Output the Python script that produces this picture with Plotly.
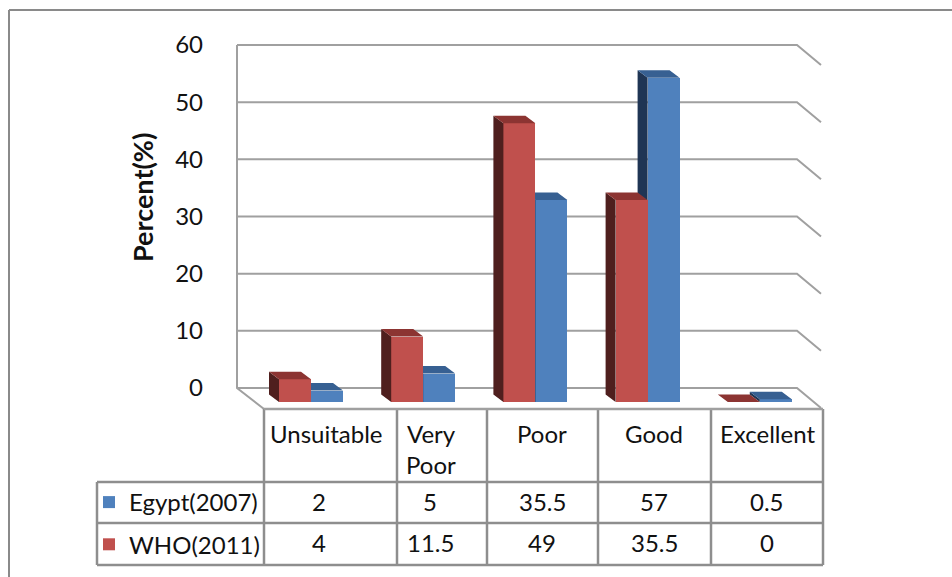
import plotly.graph_objects as go

# ---- data ----
categories = ["Unsuitable", "Very<br>Poor", "Poor", "Good", "Excellent"]
egypt_2007 = [2, 5, 35.5, 57, 0.5]
who_2011 = [4, 11.5, 49, 35.5, 0]
egypt_labels = ["2", "5", "35.5", "57", "0.5"]
who_labels = ["4", "11.5", "49", "35.5", "0"]
wall_ticks = [0, 10, 20, 30, 40, 50, 60]

# ---- page geometry (1 axis unit scales map straight on to the 952x577 page) ----
W, H = 952, 577
CAT0, CAT_STEP = 311, 112.2     # page x of first category centre, spacing
FLOOR_FRONT, UNIT_FRONT = 402, 5.69   # page y of value 0 at bars, px per unit
FLOOR_WALL, UNIT_WALL = 388, 5.717    # same for back wall
BAR_W = 32 / CAT_STEP
DX, DY = 10 / CAT_STEP, 7.5 / UNIT_FRONT

def xu(px):
    return (px - CAT0) / CAT_STEP

x_range = [xu(0), xu(W)]
y_wall_range = [(FLOOR_WALL - H) / UNIT_WALL, FLOOR_WALL / UNIT_WALL]
y_bar_range = [(FLOOR_FRONT - H) / UNIT_FRONT, FLOOR_FRONT / UNIT_FRONT]

GRID = "#A0A0A0"
TABLE = "#8E8E8E"
FONT = "Lato"
FS = 24
TXT = "#111111"

fig = go.Figure()

# back wall lines
WALL_L, WALL_R, SLANT_X, SLANT_DY = xu(237), xu(797), xu(821), 20 / UNIT_WALL
for i, v in enumerate(wall_ticks):
    fig.add_trace(go.Scatter(
        x=[WALL_L, WALL_R, SLANT_X], y=[v, v, v - SLANT_DY], mode="lines",
        line=dict(color=GRID, width=2), showlegend=False, hoverinfo="skip",
        cliponaxis=False, xaxis="x", yaxis="y"))
fig.add_trace(go.Scatter(
    x=[WALL_L, WALL_L, xu(264)], y=[wall_ticks[-1], 0, -21 / UNIT_WALL], mode="lines",
    line=dict(color=GRID, width=2), showlegend=False, hoverinfo="skip",
    xaxis="x", yaxis="y"))


def add_series(values, name, offset, front, side, top, xa, ya, group):
    sx, sy, tx, ty = [], [], [], []
    for i, v in enumerate(values):
        xl = i + offset
        xr = xl + BAR_W
        sx += [xl, xl, xl - DX, xl - DX, xl, None]
        sy += [0, v, v + DY, DY, 0, None]
        tx += [xl, xr, xr - DX, xl - DX, xl, None]
        ty += [v, v, v + DY, v + DY, v, None]
    fig.add_trace(go.Bar(
        x=list(range(len(values))), y=values, name=name, width=BAR_W, offset=offset,
        marker=dict(color=front, line=dict(width=0)), legendgroup=group,
        xaxis=xa, yaxis=ya))
    for px, py, col in ((sx, sy, side), (tx, ty, top)):
        fig.add_trace(go.Scatter(
            x=px, y=py, mode="lines", fill="toself", fillcolor=col,
            line=dict(width=0, color=col), showlegend=False, hoverinfo="skip",
            xaxis=xa, yaxis=ya))


add_series(egypt_2007, "Egypt(2007)", 0, "#4F81BD", "#1F3554", "#376092", "x2", "y2", "a")
add_series(who_2011, "WHO(2011)", -BAR_W, "#C0504D", "#4F1F1E", "#8C3432", "x3", "y3", "b")

# ---- table ----
def pxx(p):
    return p / W

def pxy(p):
    return 1 - p / H

col_edges = [264, 397, 487, 598, 711, 823]
row_edges = [409, 482, 523, 565]
TABLE_L = 97
shapes = []

def seg(x0, y0, x1, y1, color=TABLE, width=2.5):
    shapes.append(dict(type="line", xref="paper", yref="paper",
                       x0=pxx(x0), y0=pxy(y0), x1=pxx(x1), y1=pxy(y1),
                       line=dict(color=color, width=width)))

for c in col_edges:
    seg(c, row_edges[0], c, row_edges[-1])
seg(TABLE_L, row_edges[1], TABLE_L, row_edges[-1])
seg(col_edges[0], row_edges[0], col_edges[-1], row_edges[0], GRID)
for r in row_edges[1:]:
    seg(TABLE_L, r, col_edges[-1], r)
# outer frame
seg(9, 10, 9, H, "#8A8A8A", 2)
seg(9, 10, W, 10, "#8A8A8A", 2)

annotations = []

def text(px, py, s, **kw):
    annotations.append(dict(xref="paper", yref="paper", x=pxx(px), y=pxy(py), text=s,
                            showarrow=False, xanchor="center", yanchor="middle",
                            font=dict(family=FONT, size=kw.pop("size", FS), color=TXT), **kw))

label_x = [326, 431, 542, 654, 767]
value_x = [319, 430, 542, 654, 767]
for x, s in zip(label_x, categories):
    if "<br>" in s:
        a, b = s.split("<br>")
        text(x, 433, a)
        text(x, 464, b)
    else:
        text(x, 433, s)
for x, e, w in zip(value_x, egypt_labels, who_labels):
    text(x, 501, e)
    text(x, 542, w)

annotations.append(dict(xref="paper", yref="paper", x=pxx(142), y=pxy(198), text="<b>Percent(%)</b>",
                        textangle=-90, showarrow=False, xanchor="center", yanchor="middle",
                        font=dict(family=FONT, size=27, color=TXT)))

hidden = dict(visible=False, fixedrange=True)
fig.update_layout(
    width=W, height=H, margin=dict(l=0, r=0, t=0, b=0), autosize=False,
    paper_bgcolor="white", plot_bgcolor="white", bargap=0,
    shapes=shapes, annotations=annotations,
    font=dict(family=FONT, size=FS, color=TXT),
    legend=dict(x=pxx(89), y=pxy(480), xanchor="left", yanchor="top", bgcolor="rgba(0,0,0,0)",
                tracegroupgap=8, traceorder="grouped", itemclick=False, itemdoubleclick=False,
                font=dict(family=FONT, size=FS, color=TXT)),
    xaxis=dict(domain=[0, 1], range=x_range, **hidden),
    yaxis=dict(domain=[0, 1], range=y_wall_range, anchor="free", position=pxx(237),
               tickmode="array", tickvals=wall_ticks, ticks="", showline=False, showgrid=False,
               zeroline=False, ticklabelstandoff=34, tickfont=dict(family=FONT, size=FS, color=TXT),
               fixedrange=True),
    xaxis2=dict(overlaying="x", range=x_range, **hidden),
    yaxis2=dict(overlaying="y", range=y_bar_range, **hidden),
    xaxis3=dict(overlaying="x", range=x_range, **hidden),
    yaxis3=dict(overlaying="y", range=y_bar_range, **hidden),
)

fig.write_html("out.html", config=dict(displayModeBar=False),
               post_script="document.body.style.margin='0';")
